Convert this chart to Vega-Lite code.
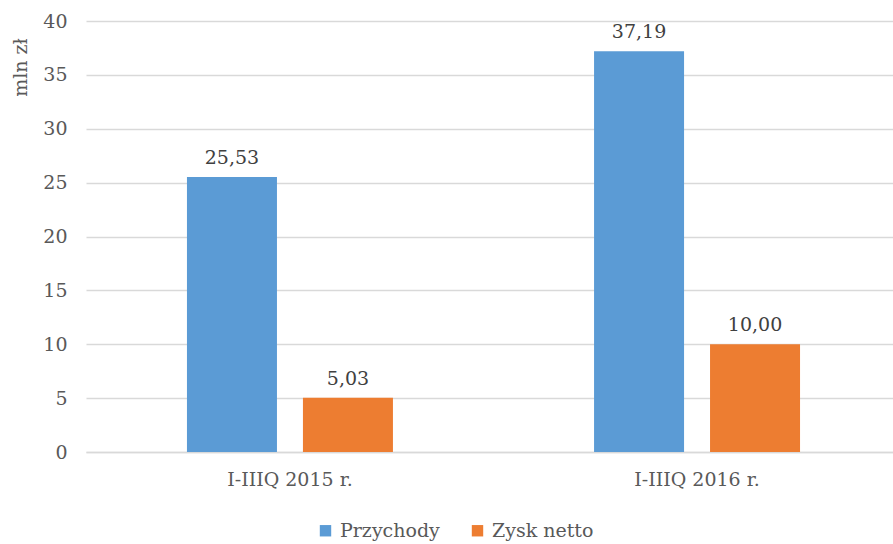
{
  "$schema": "https://vega.github.io/schema/vega-lite/v6.json",
  "width": 815,
  "height": 431,
  "autosize": "none",
  "padding": {"left": 86, "top": 21, "right": 0, "bottom": 92},
  "background": "white",
  "config": {
    "locale": {"number": {"decimal": ",", "thousands": " ", "grouping": [3], "currency": ["", " zł"]}},
    "font": "DejaVu Serif",
    "view": {"stroke": null},
    "axis": {"labelFont": "DejaVu Serif", "titleFont": "DejaVu Serif", "labelColor": "#595959", "titleColor": "#595959", "labelFontSize": 19, "titleFontSize": 19, "titleFontWeight": "normal"},
    "legend": {"labelFont": "DejaVu Serif", "labelFontSize": 19, "labelColor": "#595959"}
  },
  "data": {"values": [
    {"okres": "I-IIIQ 2015 r.", "seria": "Przychody", "wartosc": 25.53},
    {"okres": "I-IIIQ 2015 r.", "seria": "Zysk netto", "wartosc": 5.03},
    {"okres": "I-IIIQ 2016 r.", "seria": "Przychody", "wartosc": 37.19},
    {"okres": "I-IIIQ 2016 r.", "seria": "Zysk netto", "wartosc": 10.00}
  ]},
  "encoding": {
    "x": {"field": "okres", "type": "nominal", "sort": null,
      "scale": {"paddingInner": 0.494, "paddingOuter": 0.248},
      "axis": {"title": null, "labelAngle": 0, "ticks": false, "domain": true, "domainColor": "#D9D9D9", "domainWidth": 1.5, "labelPadding": 18, "grid": false}},
    "xOffset": {"field": "seria", "type": "nominal", "sort": ["Przychody", "Zysk netto"], "scale": {"paddingInner": 0.224, "paddingOuter": 0}},
    "y": {"field": "wartosc", "type": "quantitative",
      "scale": {"domain": [0, 40], "nice": false},
      "axis": {"title": "mln zł", "values": [0,5,10,15,20,25,30,35,40], "ticks": false, "domain": false, "grid": true, "gridColor": "#D9D9D9", "gridWidth": 1.5, "labelPadding": 19, "titleX": -66, "titleY": 46, "titleAlign": "center", "titleAngle": -90, "titleBaseline": "middle", "titleFontSize": 19}}
  },
  "layer": [
    {"mark": {"type": "bar"},
     "encoding": {
       "color": {"field": "seria", "type": "nominal",
         "scale": {"domain": ["Przychody", "Zysk netto"], "range": ["#5B9BD5", "#ED7D31"]},
         "legend": {"title": null, "orient": "none", "direction": "horizontal", "legendX": 230, "legendY": 500, "symbolType": "square", "symbolSize": 130, "symbolStrokeWidth": 0, "columnPadding": 28, "labelOffset": 5, "labelFontSize": 19}}
     }},
    {"mark": {"type": "text", "baseline": "bottom", "dy": -9, "fontSize": 19, "color": "#404040", "font": "DejaVu Serif"},
     "encoding": {"text": {"field": "wartosc", "type": "quantitative", "format": ".2f"}}}
  ]
}
